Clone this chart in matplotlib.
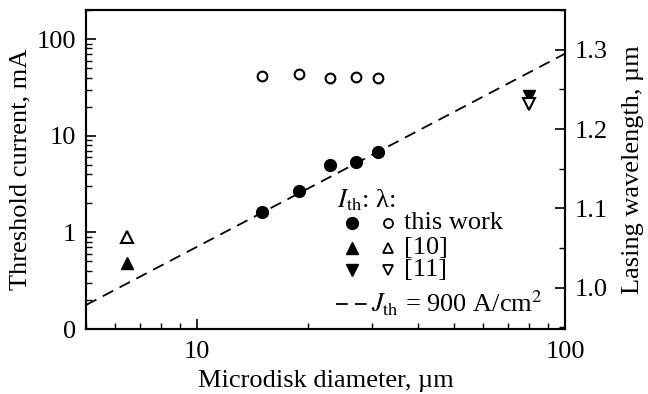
import matplotlib
matplotlib.use("Agg")
import matplotlib.pyplot as plt
from matplotlib.ticker import FixedLocator, FixedFormatter, LogLocator, MultipleLocator, NullFormatter
from matplotlib.lines import Line2D

plt.rcParams['font.family'] = ['Liberation Serif', 'DejaVu Serif']
plt.rcParams['mathtext.fontset'] = 'stix'

# this work
d_this = [15.0, 18.9, 23.0, 27.0, 31.0]
ith_this = [1.61, 2.66, 4.95, 5.3, 6.75]
lam_this = [1.267, 1.269, 1.264, 1.266, 1.264]

# ref [10]
d_ref10 = [6.45]
ith_ref10 = [0.48]
lam_ref10 = [1.064]

# ref [11]
d_ref11 = [80.0]
ith_ref11 = [26.0]
lam_ref11 = [1.231]

# J_th = 900 A/cm^2 line end points
line_d = [5.0, 100.0]
line_i = [0.177, 70.7]

left_ticks = [0.1, 1, 10, 100]
left_labels = ['0', '1', '10', '100']
right_ticks = [1.0, 1.1, 1.2, 1.3]
right_labels = ['1.0', '1.1', '1.2', '1.3']

fig = plt.figure(figsize=(6.48, 3.94), dpi=100)
ax = fig.add_axes([86 / 648, 1 - 329 / 394, (565 - 86) / 648, (329 - 10) / 394])
ax2 = ax.twinx()

fs = 19
ms_f = 8.5
dash = (6.5, 4.0)

ax.set_xscale('log')
ax.set_yscale('log')
ax.set_xlim(5, 100)
ax.set_ylim(0.1, 200)
ax2.set_ylim(0.948, 1.35)

ax.plot(line_d, line_i, color='black', lw=1.3, dashes=dash)
ax.plot(d_this, ith_this, 'o', color='black', ms=ms_f)
ax.plot(d_ref10, ith_ref10, '^', color='black', ms=ms_f)
ax.plot(d_ref11, ith_ref11, 'v', color='black', ms=ms_f)

ax2.plot(d_this, lam_this, 'o', mfc='white', mec='black', mew=1.5, ms=7)
ax2.plot(d_ref10, lam_ref10, '^', mfc='white', mec='black', mew=1.5, ms=8.5)
ax2.plot(d_ref11, lam_ref11, 'v', mfc='white', mec='black', mew=1.5, ms=8.5)

ax.yaxis.set_major_locator(FixedLocator(left_ticks))
ax.yaxis.set_major_formatter(FixedFormatter(left_labels))
ax.yaxis.set_minor_locator(LogLocator(base=10, subs=range(2, 10)))
ax.yaxis.set_minor_formatter(NullFormatter())
ax.xaxis.set_major_locator(FixedLocator([10, 100]))
ax.xaxis.set_major_formatter(FixedFormatter(['10', '100']))
ax.xaxis.set_minor_locator(LogLocator(base=10, subs=range(2, 10)))
ax.xaxis.set_minor_formatter(NullFormatter())

ax2.yaxis.set_major_locator(FixedLocator(right_ticks))
ax2.yaxis.set_major_formatter(FixedFormatter(right_labels))
ax2.yaxis.set_minor_locator(MultipleLocator(0.05))

for a in (ax, ax2):
    for s in a.spines.values():
        s.set_linewidth(1.5)
    a.tick_params(which='major', direction='in', length=7, width=1.2, labelsize=fs, pad=7)
    a.tick_params(which='minor', direction='in', length=4, width=1.0)
ax.tick_params(axis='x', which='major', pad=9)
ax.tick_params(axis='both', which='both', top=False, right=False)
ax2.tick_params(axis='y', which='both', left=False, right=True)

ax.set_xlabel('Microdisk diameter, µm', fontsize=fs, labelpad=5)
ax.set_ylabel('Threshold current, mA', fontsize=fs, labelpad=4)
ax2.set_ylabel('Lasing wavelength, µm', fontsize=fs, labelpad=10)

# legend drawn by hand in figure pixels
def px(x, y):
    return x / 648, 1 - y / 394

fig.text(*px(337, 200), r'$I_{\mathrm{th}}$: λ:', fontsize=fs, va='center', ha='left')
rows = [('o', 'this work', 223), ('^', '[10]', 248), ('v', '[11]', 270)]
for m, label, y in rows:
    fig.add_artist(Line2D([352 / 648], [1 - y / 394], marker=m, color='black', ms=ms_f,
                          transform=fig.transFigure, ls='none'))
    fig.add_artist(Line2D([388 / 648], [1 - y / 394], marker=m, mfc='white', mec='black',
                          mew=1.3, ms=6.5 if m == 'o' else 7, transform=fig.transFigure, ls='none'))
    fig.text(*px(404, y), label, fontsize=fs, va='center', ha='left')
fig.add_artist(Line2D([336 / 648, 372 / 648], [1 - 304 / 394] * 2, color='black', lw=1.3,
                      dashes=dash, transform=fig.transFigure))
fig.text(*px(371, 303), r'$J_{\mathrm{th}}$ = 900 A/cm$^2$', fontsize=fs, va='center', ha='left')

fig.savefig('out.png', dpi=100)
